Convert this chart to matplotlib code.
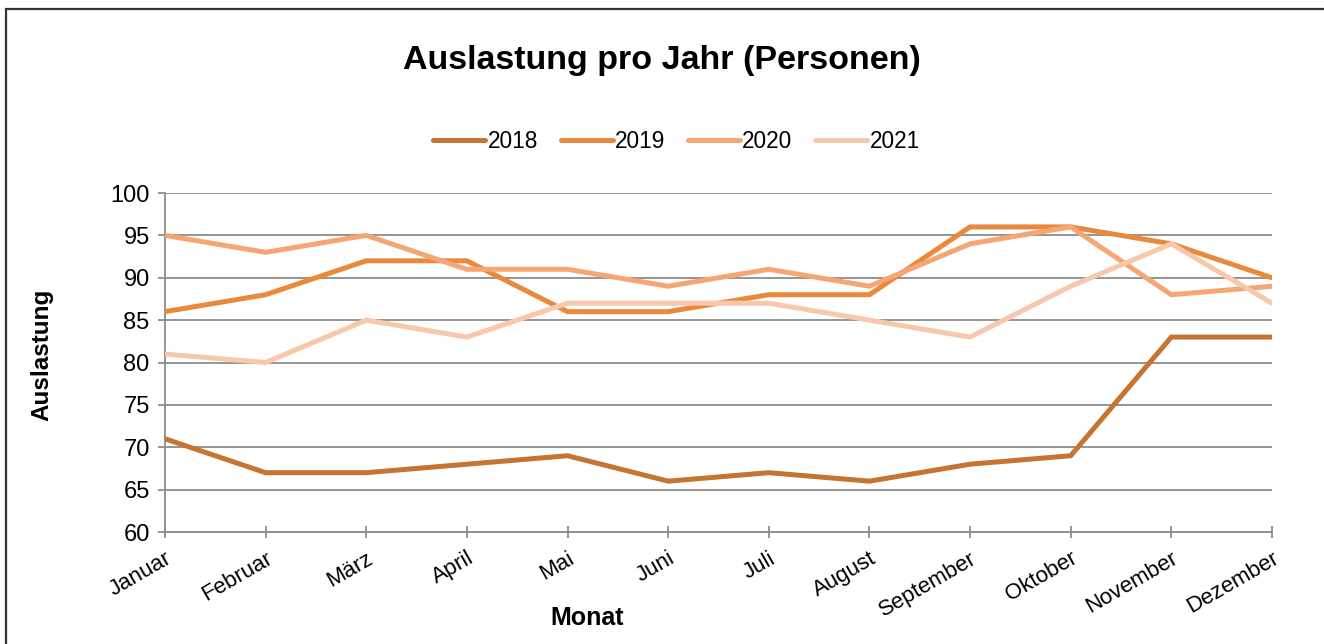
import matplotlib.pyplot as plt
from matplotlib.patches import Rectangle

plt.rcParams['font.family'] = ['Liberation Sans', 'DejaVu Sans']

# Monate und Auslastung je Jahr
monate = ["Januar", "Februar", "März", "April", "Mai", "Juni", "Juli",
          "August", "September", "Oktober", "November", "Dezember"]
jahre = ["2018", "2019", "2020", "2021"]
werte_2018 = [71, 67, 67, 68, 69, 66, 67, 66, 68, 69, 83, 83]
werte_2019 = [86, 88, 92, 92, 86, 86, 88, 88, 96, 96, 94, 90]
werte_2020 = [95, 93, 95, 91, 91, 89, 91, 89, 94, 96, 88, 89]
werte_2021 = [81, 80, 85, 83, 87, 87, 87, 85, 83, 89, 94, 87]
farben = ["#C57432", "#E8893B", "#F5A673", "#F8C8AA"]

fig = plt.figure(figsize=(13.24, 6.44), dpi=100)
ax = fig.add_axes([0.1246, 0.1739, 0.8361, 0.5264])

# Rahmen um das Diagramm
fig.patches.append(Rectangle((6 / 1324, -0.05), 1.1, 1 - 9 / 644 + 0.05,
                             transform=fig.transFigure, fill=False,
                             edgecolor="#333333", linewidth=1.6))

x = range(len(monate))
for jahr, werte, farbe in zip(jahre, [werte_2018, werte_2019, werte_2020, werte_2021], farben):
    ax.plot(x, werte, color=farbe, linewidth=3.6, label=jahr,
            solid_capstyle="round", solid_joinstyle="miter", zorder=3)

ax.set_xlim(0, len(monate) - 1)
ax.set_ylim(60, 100)
ax.set_yticks(range(60, 101, 5))
ax.set_xticks(list(x))
ax.set_xticklabels(monate, rotation=30, ha="right", rotation_mode="anchor")
ax.yaxis.grid(True, color="#8C8C8C", linewidth=1.3)
ax.set_axisbelow(True)

for s in ["top", "right"]:
    ax.spines[s].set_visible(False)
for s in ["left", "bottom"]:
    ax.spines[s].set_color("#8C8C8C")
    ax.spines[s].set_linewidth(1.3)

ax.tick_params(axis="x", direction="inout", length=9, width=1.3, color="#8C8C8C",
               labelsize=16, pad=7)
ax.tick_params(axis="y", direction="out", length=5, width=1.3, color="#8C8C8C",
               labelsize=17, pad=6)

fig.text(0.5, 1 - 60 / 644, "Auslastung pro Jahr (Personen)", ha="center",
         va="center", fontsize=24.5, fontweight="bold")
fig.text(42 / 1324, 1 - 355 / 644, "Auslastung", rotation=90, ha="center",
         va="center", fontsize=17.5, fontweight="bold")
fig.text(587 / 1324, 1 - 618 / 644, "Monat", ha="center", va="center",
         fontsize=18, fontweight="bold")

fig.legend(loc="center", bbox_to_anchor=(0.511, 1 - 141 / 644), ncol=4,
           frameon=False, fontsize=16.3, handlelength=2.3, columnspacing=1.0,
           handletextpad=0.1)

fig.savefig("out.png", dpi=100)
